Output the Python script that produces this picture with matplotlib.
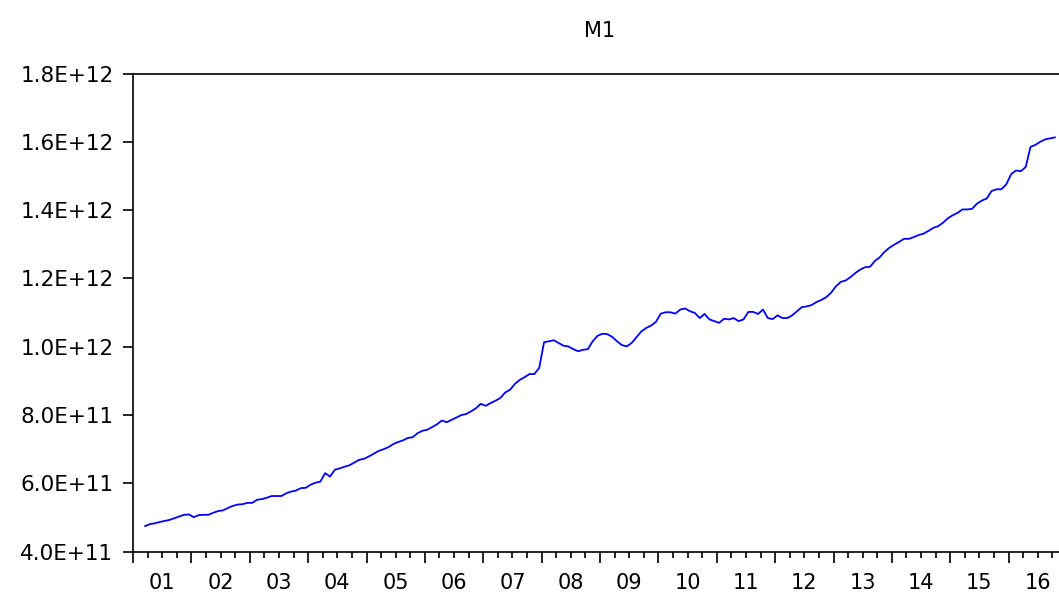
import numpy as np
import pandas as pd
import matplotlib
matplotlib.use('Agg')
import matplotlib.pyplot as plt
from matplotlib.ticker import FuncFormatter, MultipleLocator

# M1 money stock, monthly from 2001M03, in billions
start_month = '2001-03'
m1_bn = [
    475, 481, 483, 487, 490, 493, 498, 503, 508, 509,
    501, 507, 508, 508, 514, 519, 521, 528, 534, 538, 539, 543,
    543, 552, 554, 558, 563, 563, 563, 571, 576, 579, 586, 587,
    596, 602, 605, 630, 620, 640, 644, 649, 653, 661, 669, 672,
    679, 687, 695, 700, 706, 715, 721, 726, 733, 735, 747, 754,
    757, 765, 773, 784, 779, 786, 793, 800, 803, 811, 820, 833,
    827, 835, 842, 850, 866, 874, 891, 903, 911, 920, 920, 938,
    1013, 1016, 1019, 1011, 1003, 1001, 993, 987, 991, 993, 1016, 1032,
    1038, 1037, 1029, 1016, 1005, 1001, 1011, 1028, 1045, 1055, 1062, 1073,
    1097, 1101, 1101, 1097, 1109, 1112, 1104, 1099, 1084, 1096, 1080, 1075,
    1070, 1082, 1080, 1084, 1075, 1080, 1102, 1102, 1096, 1109, 1084, 1081,
    1092, 1084, 1084, 1092, 1104, 1116, 1118, 1122, 1131, 1137, 1145, 1158,
    1177, 1190, 1194, 1204, 1216, 1226, 1233, 1234, 1251, 1262, 1278, 1290,
    1299, 1307, 1316, 1316, 1321, 1327, 1331, 1339, 1348, 1353, 1363, 1376,
    1385, 1392, 1402, 1402, 1404, 1419, 1428, 1434, 1456, 1461, 1461, 1475,
    1505, 1516, 1514, 1526, 1585, 1591, 1600, 1607, 1610, 1613,
]

years = np.arange(2001, 2017)
year_labels = [f'{y % 100:02d}' for y in years]
y_ticks = [4e11, 6e11, 8e11, 1.0e12, 1.2e12, 1.4e12, 1.6e12, 1.8e12]

# monthly observations placed at the middle of each month
months = pd.period_range(start_month, periods=len(m1_bn), freq='M')
t = months.year + (months.month - 0.5) / 12
m1 = np.array(m1_bn) * 1e9

plt.rcParams['font.family'] = 'DejaVu Sans'

fig = plt.figure(figsize=(10.59, 5.94), dpi=100)
ax = fig.add_axes([133 / 1059, 42.3 / 594, 934 / 1059, 478.2 / 594])

ax.plot(t, m1, color='#0000ff', lw=1.3)

ax.set_xlim(2001.137, 2016.94)
ax.set_ylim(4e11, 1.8e12)

# long ticks at year boundaries, short ticks at quarters
ax.set_xticks(np.arange(2001, 2018))
ax.xaxis.set_minor_locator(MultipleLocator(0.25))
ax.tick_params(axis='x', which='major', length=8, width=1.2, labelbottom=False)
ax.tick_params(axis='x', which='minor', length=4.5, width=1.2)

# year labels centred on each year
sec = ax.secondary_xaxis('bottom')
sec.set_xticks(years + 0.5, year_labels)
sec.tick_params(length=0, pad=15, labelsize=15)
sec.spines['bottom'].set_visible(False)

ax.set_yticks(y_ticks)
ax.yaxis.set_major_formatter(FuncFormatter(lambda v, p: f'{v:.1E}'))
ax.tick_params(axis='y', length=7, width=1.2, pad=7, labelsize=15.5)

for s in ax.spines.values():
    s.set_linewidth(1.2)

ax.set_title('M1', fontsize=15, pad=26)

fig.savefig('out.png', dpi=100)
